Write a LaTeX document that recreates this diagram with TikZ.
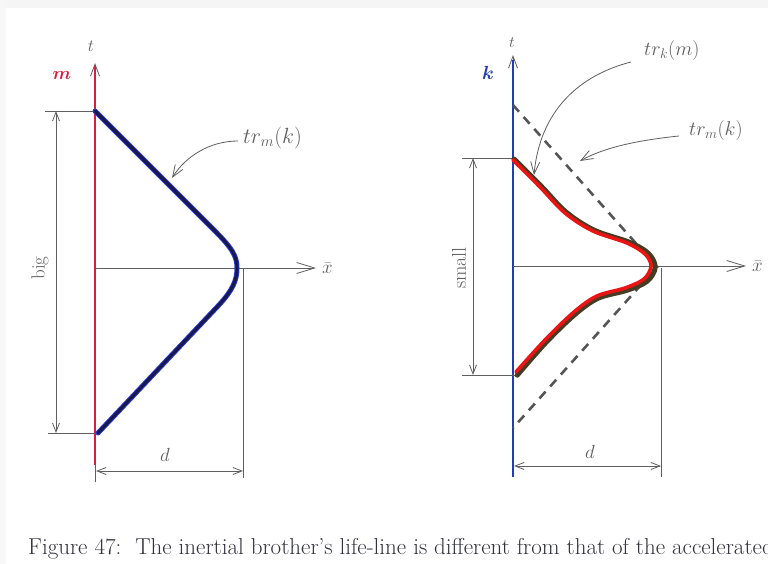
\RequirePackage{fix-cm}
\documentclass[tikz,border=0pt]{standalone}
\usetikzlibrary{arrows.meta}
\usepackage{amsmath,bm}
\definecolor{ink}{RGB}{95,95,95}
\definecolor{mred}{RGB}{215,30,60}
\definecolor{kblue}{RGB}{35,60,175}
\definecolor{navy}{RGB}{25,25,80}
\definecolor{brightblue}{RGB}{40,60,220}
\definecolor{curvered}{RGB}{235,20,20}
\definecolor{olive}{RGB}{70,60,35}
\definecolor{dashgray}{RGB}{85,85,85}
\definecolor{captext}{RGB}{50,50,60}
\begin{document}
\begin{tikzpicture}[x=1pt,y=-1pt,
  thinline/.style={draw=ink,line width=0.8pt},
  dimarrow/.style={thinline,{Straight Barb[length=9pt,width=7pt]}-{Straight Barb[length=9pt,width=7pt]}},
  axisarrow/.style={thinline,-{Straight Barb[length=18pt,width=11pt]}},
  taxis/.style={thinline,-{Straight Barb[length=12pt,width=9pt]}},
  pointer/.style={thinline,-{Straight Barb[length=12pt,width=9pt]}},
  lbl/.style={inner sep=0pt,font=\fontsize{19}{21}\selectfont},
  trlbl/.style={inner sep=0pt,font=\fontsize{20}{22}\selectfont,text=ink},
  dashline/.style={draw=dashgray,line width=2.6pt,dash pattern=on 9pt off 7pt}]
\useasboundingbox (0,0) rectangle (768,564);
\fill[white] (0,0) rectangle (768,564);
\fill[black!4] (0,0) rectangle (768,8);
\fill[black!3] (0,0) rectangle (6,564);

% ---------------- left diagram ----------------
\coordinate (LO) at (95,268);
\coordinate (Lbot) at (95,482);
\coordinate (Ltop) at (95,63);
\coordinate (Lup) at (95,111);
\coordinate (Llo) at (95,433);
\coordinate (Lup0) at (45,111);
\coordinate (Llo0) at (48,433);
\coordinate (Ldu) at (56,111);
\coordinate (Ldl) at (56,433);
\coordinate (Lx) at (316,268);
\coordinate (Lv) at (243,268);
\coordinate (Lvb) at (243,478);
\coordinate (Lda) at (96,471);
\coordinate (Ldb) at (243,471);
\coordinate (Lp) at (238,141);

\draw[taxis] (Lbot) -- (Ltop);
\draw[draw=mred,line width=1.4pt] (95,465) -- (95,66);
\draw[thinline] (Lup0) -- (Lup);
\draw[thinline] (Llo0) -- (Llo);
\draw[dimarrow] (Ldu) -- (Ldl);
\draw[axisarrow] (LO) -- (Lx);
\draw[thinline] (Lv) -- (Lvb);
\draw[dimarrow] (Lda) -- (Ldb);

\draw[brightblue,line width=5pt,line cap=round,line join=round]
  (Lup) -- (214,230) .. controls (232,248) and (237,256) .. (237,268)
  .. controls (237,280) and (233,290) .. (218,306) -- (98,433);
\draw[navy,line width=3.2pt,line cap=round,line join=round]
  (Lup) -- (214,230) .. controls (232,248) and (237,256) .. (237,268)
  .. controls (237,280) and (233,290) .. (218,306) -- (98,433);

\node[lbl,font=\fontsize{17}{18}\selectfont,text=ink] (Lt) at (91,46) {$t$};
\node[lbl,font=\fontsize{18}{20}\selectfont,text=mred] (Lm) at (62,76) {$\bm{m}$};
\node[lbl,rotate=90,text=ink] (Lbig) at (40,268) {big};
\node[lbl,text=ink,anchor=west] (Lxl) at (322,268) {$\bar x$};
\node[lbl,text=ink] (Ld) at (165,455) {$d$};
\node[trlbl,font=\fontsize{22}{24}\selectfont,anchor=west] (Ltr) at (243,138) {$tr_m(k)$};
\draw[pointer] (Lp) .. controls (210,141) and (186,156) .. (172,178);

% ---------------- right diagram ----------------
\coordinate (RO) at (513,266);
\coordinate (Rbot) at (513,477);
\coordinate (Rtop) at (513,55);
\coordinate (Rup) at (513,158);
\coordinate (Rlo) at (515,375);
\coordinate (Rup0) at (462,158);
\coordinate (Rlo0) at (462,375);
\coordinate (Rdu) at (473,158);
\coordinate (Rdl) at (473,375);
\coordinate (Rx) at (746,266);
\coordinate (Rv) at (661,268);
\coordinate (Rvb) at (661,477);
\coordinate (Rda) at (514,466);
\coordinate (Rdb) at (661,466);
\coordinate (Rd1) at (513,105);
\coordinate (Rd2) at (657,267);
\coordinate (Rd3) at (513,428);
\coordinate (Rp1) at (631,62);
\coordinate (Rp2) at (679,136);

\draw[taxis] (Rbot) -- (Rtop);
\draw[draw=kblue,line width=1.5pt] (513,477) -- (513,60);
\draw[thinline] (Rup0) -- (Rup);
\draw[thinline] (Rlo0) -- (Rlo);
\draw[dimarrow] (Rdu) -- (Rdl);
\draw[axisarrow] (RO) -- (Rx);
\draw[thinline] (Rv) -- (Rvb);
\draw[dimarrow] (Rda) -- (Rdb);
\draw[dashline] (Rd1) -- (Rd2) -- (Rd3);

\draw[olive,line width=5pt,line cap=round,line join=round,xshift=1.2pt,yshift=-1.2pt]
  plot[smooth,tension=0.55] coordinates {(513,158) (540,185) (565,211) (593,229) (628,241) (647,252) (654,266) (646,280) (626,289) (597,297) (574,313) (545,341) (516,374)};
\draw[curvered,line width=3.6pt,line cap=round,line join=round]
  plot[smooth,tension=0.55] coordinates {(513,160) (540,187) (565,213) (593,231) (627,243) (645,254) (651,266) (644,279) (625,288) (597,296) (574,312) (545,340) (516,372)};

\node[lbl,font=\fontsize{16}{18}\selectfont,text=ink] (Rt) at (512,43) {$t$};
\node[lbl,font=\fontsize{19}{20}\selectfont,text=kblue] (Rk) at (488,73) {$\bm{k}$};
\node[lbl,font=\fontsize{20}{22}\selectfont,rotate=90,text=ink] (Rsmall) at (459,268) {small};
\node[lbl,text=ink,anchor=west] (Rxl) at (752,266) {$\bar x$};
\node[lbl,text=ink] (Rd) at (590,452) {$d$};
\node[trlbl,anchor=west] (Rtrk) at (644,51) {$tr_k(m)$};
\node[trlbl,anchor=west] (Rtrm) at (689,131) {$tr_m(k)$};
\draw[pointer] (Rp1) .. controls (580,75) and (540,110) .. (534,175);
\draw[pointer] (Rp2) .. controls (640,140) and (605,147) .. (580,161);

% ---------------- caption ----------------
\node[inner sep=0pt,anchor=base west,text=captext,font=\fontsize{23}{25}\selectfont] (cap) at (28,554)
  {Figure 47:\ \ The inertial brother's life-line is different from that of the accelerated};
\end{tikzpicture}
\end{document}
